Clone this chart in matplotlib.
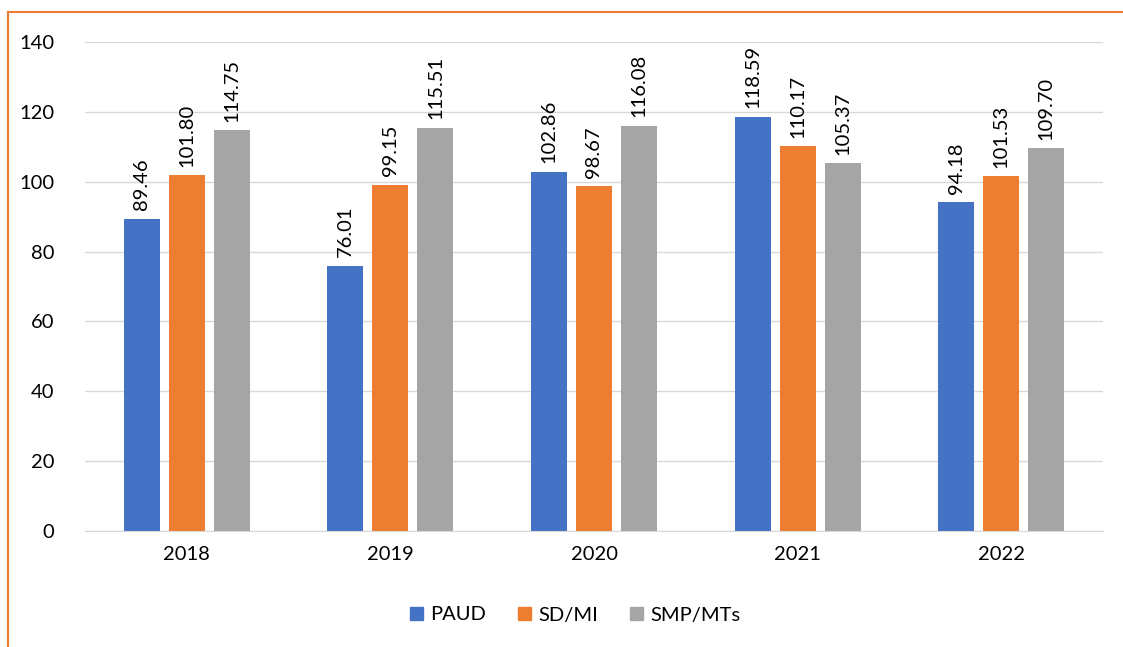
import matplotlib
matplotlib.use("Agg")
import matplotlib.pyplot as plt
import numpy as np
from matplotlib.lines import Line2D
from matplotlib.patches import Patch

years = ["2018", "2019", "2020", "2021", "2022"]
series_names = ["PAUD", "SD/MI", "SMP/MTs"]
paud = [89.46, 76.01, 102.86, 118.59, 94.18]
sdmi = [101.80, 99.15, 98.67, 110.17, 101.53]
smp = [114.75, 115.51, 116.08, 105.37, 109.70]
colors = ["#4472C4", "#ED7D31", "#A5A5A5"]
yticks = [0, 20, 40, 60, 80, 100, 120, 140]

plt.rcParams['font.family'] = ['Lato', 'DejaVu Sans']
FS = 14.5

fig = plt.figure(figsize=(11.23, 6.47), dpi=100)
ax = fig.add_axes([85/1123, 1-531/647, (1103-85)/1123, (531-42)/647])

x = np.arange(len(years))
width = 0.177
offset = 0.221
for i, (vals, name, c) in enumerate(zip([paud, sdmi, smp], series_names, colors)):
    pos = x + (i - 1) * offset
    ax.bar(pos, vals, width=width, color=c, label=name, zorder=3)
    for p, v in zip(pos, vals):
        ax.annotate(f"{v:.2f}", (p, v), xytext=(0, 6), textcoords="offset points",
                    rotation=90, ha="center", va="bottom", fontsize=FS, color="#000000")

ax.set_xlim(-0.5, len(years) - 0.5)
ax.set_ylim(0, 140)
ax.set_yticks(yticks)
ax.set_yticklabels([str(t) for t in yticks], fontsize=FS)
ax.set_xticks(x)
ax.set_xticklabels(years, fontsize=FS)
ax.tick_params(axis='both', length=0)
ax.tick_params(axis='y', pad=22)
ax.tick_params(axis='x', pad=11)
ax.grid(axis='y', color="#D9D9D9", linewidth=1, zorder=0)
for s in ["top", "right", "left"]:
    ax.spines[s].set_visible(False)
ax.spines["bottom"].set_color("#D9D9D9")
ax.spines["bottom"].set_zorder(4)

leg = fig.legend(handles=[Patch(color=c, label=n) for c, n in zip(colors, series_names)],
                 loc="center", bbox_to_anchor=(575/1123, 1-615/647), ncol=3, frameon=False,
                 fontsize=FS, handlelength=0.65, handleheight=0.65, handletextpad=0.35, columnspacing=1.6)

# orange frame (top and left)
fig.add_artist(Line2D([8/1123, 1], [1-12/647, 1-12/647], color="#ED7D31", linewidth=1.5, transform=fig.transFigure))
fig.add_artist(Line2D([8/1123, 8/1123], [0, 1-12/647], color="#ED7D31", linewidth=1.5, transform=fig.transFigure))

fig.savefig("out.png", dpi=100)
